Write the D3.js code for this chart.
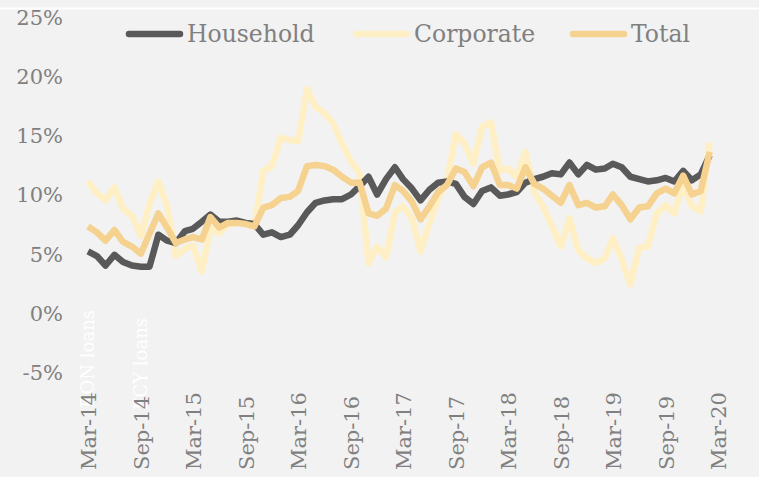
<!DOCTYPE html>
<html><head><meta charset="utf-8">
<script src="https://cdn.jsdelivr.net/npm/d3@7"></script>
<style>
html,body{margin:0;padding:0;background:#F2F2F2;}
svg{display:block;}
text{font-family:"DejaVu Serif",Georgia,serif;}
</style></head>
<body><svg id="c" width="759" height="477"></svg>
<script>
// Monthly categories, Mar-2014 .. Feb-2020
const startMonth = "2014-03";
const monthCount = 72;
const tickLabels = ["Mar-14","Sep-14","Mar-15","Sep-15","Mar-16","Sep-16","Mar-17","Sep-17","Mar-18","Sep-18","Mar-19","Sep-19","Mar-20"];
const yTicks = [-5,0,5,10,15,20,25];
const seriesNames = ["Household","Corporate","Total"];

const household = [5.2,4.8,4.0,4.9,4.3,4.0,3.9,3.9,6.6,6.1,5.9,6.9,7.1,7.7,8.3,7.7,7.7,7.8,7.6,7.5,
  6.6,6.8,6.4,6.6,7.4,8.5,9.3,9.5,9.6,9.6,10.0,10.7,11.5,10.0,11.3,12.3,11.3,10.5,9.5,10.4,
  11.0,11.1,10.9,9.8,9.2,10.3,10.6,9.9,10.0,10.2,11.0,11.3,11.5,11.8,11.7,12.7,11.7,12.5,12.1,12.2,
  12.6,12.3,11.5,11.3,11.1,11.2,11.4,11.1,12.0,11.2,11.7,13.3];
const corporate = [11.1,10.1,9.5,10.6,8.8,8.2,6.5,9.2,11.1,9.0,4.8,5.4,5.7,3.5,7.2,6.7,7.5,7.6,7.6,7.3,
  12.0,12.4,14.8,14.6,14.5,18.9,17.4,16.9,16.0,14.3,12.8,11.8,4.2,5.6,4.7,8.5,9.0,8.0,5.2,7.6,
  9.6,11.2,15.1,14.3,12.6,15.7,16.1,12.0,12.2,11.5,13.6,10.2,9.0,7.4,5.6,8.0,5.3,4.6,4.2,4.6,
  6.3,4.5,2.4,5.5,5.6,8.4,9.1,8.4,11.0,9.0,8.6,14.4];
const total = [7.3,6.8,6.1,7.0,6.0,5.6,5.0,6.7,8.4,7.2,5.9,6.2,6.4,6.2,8.1,7.2,7.6,7.6,7.5,7.3,
  8.9,9.1,9.7,9.8,10.3,12.4,12.5,12.4,12.1,11.5,11.0,11.0,8.4,8.2,8.8,10.8,10.3,9.4,7.9,9.0,
  10.2,10.8,12.2,11.9,10.7,12.3,12.7,10.8,10.8,10.5,12.3,10.9,10.5,9.9,9.3,10.8,9.1,9.3,8.9,9.0,
  10.0,9.1,7.9,8.9,9.0,10.1,10.5,10.1,11.6,10.0,10.3,13.6];
const annotations = ["RON loans","FCY loans"];

const colors = {Household:"#595959", Corporate:"#FFEFC5", Total:"#F5D290"};
const textColor = "#808080";

const svg = d3.select("#c");
const parse = d3.timeParse("%Y-%m");
const t0 = parse(startMonth);
const months = d3.range(monthCount).map(i => d3.timeMonth.offset(t0, i));
const tickDates = tickLabels.map((l,i) => d3.timeMonth.offset(t0, i*6));

const x = d3.scaleTime().domain([t0, d3.timeMonth.offset(t0,72)]).range([88, 718]);
const y = d3.scaleLinear().domain([-5,25]).range([372, 17]);

// top white rule
svg.append("line").attr("x1",0).attr("x2",759).attr("y1",8.5).attr("y2",8.5)
  .attr("stroke","#fff").attr("stroke-width",2);

// y axis labels
const yAxis = d3.axisLeft(y).tickValues(yTicks).tickFormat(d => d + "%").tickSize(0).tickPadding(0);
const gy = svg.append("g").attr("transform","translate(63,0)").call(yAxis);
gy.select(".domain").remove();
gy.selectAll("text").attr("fill",textColor).style("font-size","21px")
  .style("font-family","DejaVu Serif").attr("dy","0.35em");

// white annotations (behind axis labels)
const annX = [tickDates[0], tickDates[1]];
const annTop = [310, 318];
svg.selectAll("text.ann").data(annotations).enter().append("text").attr("class","ann")
  .attr("transform",(d,i) => `translate(${x(annX[i]) + 6},${annTop[i]}) rotate(-90)`)
  .attr("text-anchor","end").attr("fill","#ffffff").style("font-size","18px").text(d => d);

// x axis labels (rotated, reading bottom-to-top, ending just below the plot)
const xAxis = d3.axisBottom(x).tickValues(tickDates).tickFormat((d,i) => tickLabels[i]).tickSize(0).tickPadding(0);
const gx = svg.append("g").attr("transform","translate(0,389)").call(xAxis);
gx.select(".domain").remove();
gx.selectAll(".tick text").attr("fill",textColor).style("font-size","21px").style("font-family","DejaVu Serif")
  .attr("text-anchor","start").attr("transform","rotate(-90)").attr("x",-81).attr("y",0).attr("dy","0.35em");

// lines
const line = d3.line().x((d,i) => x(months[i])).y(d => y(d));
const drawOrder = [["Corporate",corporate],["Household",household],["Total",total]];
svg.selectAll("path.series").data(drawOrder).enter().append("path").attr("class","series")
  .attr("d", d => line(d[1])).attr("fill","none").attr("stroke", d => colors[d[0]])
  .attr("stroke-width",6.5).attr("stroke-linejoin","round").attr("stroke-linecap","butt");

// legend
const legX = [126, 353, 570];
const lg = svg.append("g");
seriesNames.forEach((n,i) => {
  lg.append("line").attr("x1",legX[i]+3).attr("x2",legX[i]+54).attr("y1",34).attr("y2",34)
    .attr("stroke",colors[n]).attr("stroke-width",6.5).attr("stroke-linecap","round");
  lg.append("text").attr("x",legX[i]+61).attr("y",34).attr("dy","0.35em")
    .attr("fill",textColor).style("font-size","23.5px").text(n);
});
</script></body></html>
